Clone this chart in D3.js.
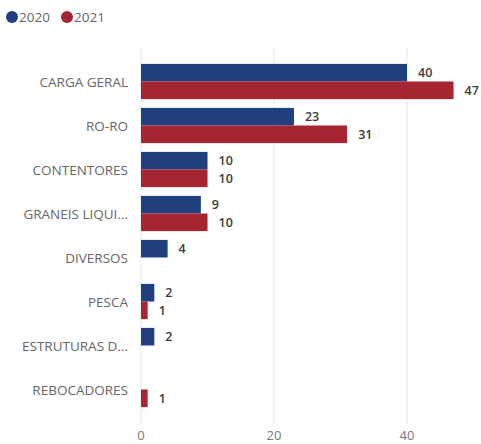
<!DOCTYPE html>
<html>
<head>
<meta charset="utf-8">
<script src="https://cdn.jsdelivr.net/npm/d3@7"></script>
<style>
  html, body { margin: 0; padding: 0; background: #ffffff; }
  svg { display: block; font-family: "Open Sans", "Noto Sans", sans-serif; }
</style>
</head>
<body>
<svg id="chart" width="481" height="444"></svg>
<script>
// Categories and values per year (null = no bar)
const categories = ["CARGA GERAL", "RO-RO", "CONTENTORES", "GRANEIS LIQUI...", "DIVERSOS", "PESCA", "ESTRUTURAS D...", "REBOCADORES"];
const values2020 = [40, 23, 10, 9, 4, 2, 2, null];
const values2021 = [47, 31, 10, 10, null, 1, null, 1];
const seriesNames = ["2020", "2021"];
const seriesColors = ["#203F7E", "#A62533"];
const xTicks = [0, 20, 40];

const svg = d3.select("#chart");

const x = d3.scaleLinear().domain([0, 50]).range([141, 473.5]);
const y = d3.scaleBand().domain(categories).range([59.5, 411.5]).paddingInner(0.2).paddingOuter(0.1);
const sub = d3.scaleBand().domain(seriesNames).range([0, y.bandwidth()]);

// Vertical gridlines
svg.append("g").selectAll("line").data(xTicks).join("line")
  .attr("x1", d => x(d)).attr("x2", d => x(d))
  .attr("y1", 47).attr("y2", 424)
  .attr("stroke", "#ebebeb").attr("stroke-width", 1.2);

// X axis labels
svg.append("g").selectAll("text").data(xTicks).join("text")
  .attr("x", d => x(d)).attr("y", 440)
  .attr("text-anchor", "middle")
  .attr("font-size", 13).attr("fill", "#777")
  .text(d => d);

// Category labels
svg.append("g").selectAll("text").data(categories).join("text")
  .attr("x", 128).attr("y", d => y(d) + y.bandwidth() / 2 + 5)
  .attr("text-anchor", "end")
  .attr("font-size", 13.5).attr("fill", "#666")
  .text(d => d);

const rows = [];
categories.forEach((c, i) => {
  [values2020[i], values2021[i]].forEach((v, j) => {
    if (v != null) rows.push({ cat: c, series: seriesNames[j], color: seriesColors[j], value: v });
  });
});

// Bars
svg.append("g").selectAll("rect").data(rows).join("rect")
  .attr("x", x(0))
  .attr("y", d => y(d.cat) + sub(d.series))
  .attr("width", d => x(d.value) - x(0))
  .attr("height", sub.bandwidth())
  .attr("fill", d => d.color);

// Value labels
svg.append("g").selectAll("text").data(rows).join("text")
  .attr("x", d => x(d.value) + 11)
  .attr("y", d => y(d.cat) + sub(d.series) + sub.bandwidth() / 2 + 4.5)
  .attr("font-size", 12.5).attr("font-weight", 600).attr("fill", "#3a3a3a")
  .text(d => d.value);

// Legend
const legend = svg.append("g");
const legendX = [12, 67];
seriesNames.forEach((s, i) => {
  legend.append("circle").attr("cx", legendX[i]).attr("cy", 17).attr("r", 6).attr("fill", seriesColors[i]);
  legend.append("text").attr("x", legendX[i] + 7).attr("y", 22)
    .attr("font-size", 13.5).attr("fill", "#666").text(s);
});
</script>
</body>
</html>
